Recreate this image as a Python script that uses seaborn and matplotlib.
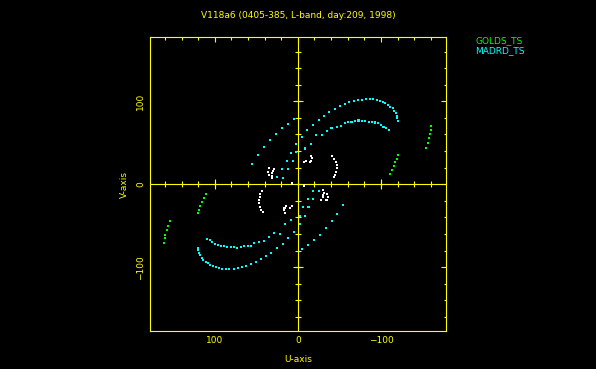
import numpy as np
import pandas as pd
import matplotlib
matplotlib.use("Agg")
import matplotlib.pyplot as plt
import seaborn as sns

# UV coverage, values (U, V in the plot's units)
# MADRD_TS (cyan): outer arc, inner arc, short arc, centre tracks; each with its conjugate half
madrd_outer_u = [-4.6, -11.3, -18.2, -25.4, -31.8, -37.8, -44.3, -50.7, -56.7, -61.9, -67.2, -72.0, -77.2, -82.4,
                 -86.9, -90.8, -94.9, -98.9, -102.2, -105.3, -108.2, -111.0, -114.2, -115.8, -117.8, -119.4, -119.8, -120.6,
                 4.6, 11.3, 18.2, 25.4, 31.8, 37.8, 44.3, 50.7, 56.7, 61.9, 67.2, 72.0, 77.2, 82.4,
                 86.9, 90.8, 94.9, 98.9, 102.2, 105.3, 108.2, 111.0, 114.2, 115.8, 117.8, 119.4, 119.8, 120.6]
madrd_outer_v = [57.2, 64.9, 71.7, 77.3, 82.5, 86.6, 90.6, 94.2, 96.3, 98.7, 100.2, 101.4, 101.8, 102.3,
                 102.7, 102.3, 101.4, 100.2, 99.0, 97.5, 95.4, 93.4, 91.4, 88.6, 85.4, 82.5, 79.4, 76.5,
                 -57.2, -64.9, -71.7, -77.3, -82.5, -86.6, -90.6, -94.2, -96.3, -98.7, -100.2, -101.4, -101.8, -102.3,
                 -102.7, -102.3, -101.4, -100.2, -99.0, -97.5, -95.4, -93.4, -91.4, -88.6, -85.4, -82.5, -79.4, -76.5]

madrd_inner_u = [109.2, 105.9, 103.1, 99.9, 96.3, 93.0, 89.0, 85.1, 81.0, 77.0, 73.0, 68.9, 64.6, 60.5, 56.5, 52.5,
                 47.2, 40.5, 34.8, 28.8, 21.9, 15.5, 8.3,
                 -109.2, -105.9, -103.1, -99.9, -96.3, -93.0, -89.0, -85.1, -81.0, -77.0, -73.0, -68.9, -64.6, -60.5,
                 -56.5, -52.5, -47.2, -40.5, -34.8, -28.8, -21.9, -15.5, -8.3]
madrd_inner_v = [-65.7, -67.6, -69.6, -72.0, -73.6, -74.5, -74.8, -75.3, -76.0, -76.0, -76.9, -76.0, -74.8, -74.8, -74.1,
                 -70.8, -69.3, -68.1, -64.0, -59.2, -59.6, -48.3, -43.1,
                 65.7, 67.6, 69.6, 72.0, 73.6, 74.5, 74.8, 75.3, 76.0, 76.0, 76.9, 76.0, 74.8, 74.8, 74.1,
                 70.8, 69.3, 68.1, 64.0, 59.2, 59.6, 48.3, 43.1]

madrd_short_u = [54.9, 47.7, 40.8, 33.6, 26.4, 19.2, 11.9, 4.7,
                 -54.9, -47.7, -40.8, -33.6, -26.4, -19.2, -11.9, -4.7]
madrd_short_v = [24.7, 35.5, 44.8, 53.3, 60.8, 67.3, 72.9, 78.2,
                 -24.7, -35.5, -44.8, -53.3, -60.8, -67.3, -72.9, -78.2]

madrd_centre_u = [25.5, 18.8, 12.8, 8.7, 2.3, 18.3, 12.3, 5.9, 2.3,
                  -25.5, -18.8, -12.8, -8.7, -2.3, -18.3, -12.3, -5.9, -2.3]
madrd_centre_v = [8.3, 18.3, 27.6, 38.0, 48.4, 7.8, 18.3, 27.6, 38.4,
                  -8.3, -18.3, -27.6, -38.0, -48.4, -7.8, -18.3, -27.6, -38.4]

# GOLDS_TS (green)
golds_u = [-160.7, -160.0, -159.5, -158.0, -156.4, -154.3, -120.6, -119.4, -117.3, -115.4, -113.4, -111.0,
           160.7, 160.0, 159.5, 158.0, 156.4, 154.3, 120.6, 119.4, 117.3, 115.4, 113.4, 111.0]
golds_v = [70.5, 65.3, 60.8, 55.3, 50.0, 44.0, 35.2, 30.7, 26.4, 21.6, 16.7, 11.9,
           -70.5, -65.3, -60.8, -55.3, -50.0, -44.0, -35.2, -30.7, -26.4, -21.6, -16.7, -11.9]

# short baselines (white, not in the legend)
short_u = [34.5, 28.4, 30.0, 36.0, 30.8, 35.2, 31.2, 30.8,
           -15.4, -17.0, -16.1, -14.6, -9.4, -7.0,
           -41.4, -43.9, -45.5, -46.7, -46.7, -45.9, -45.1, -43.5,
           7.3, 7.3,
           -34.5, -28.4, -30.0, -36.0, -30.8, -35.2, -31.2, -30.8,
           15.4, 17.0, 16.1, 14.6, 9.4, 7.0,
           41.4, 43.9, 45.5, 46.7, 46.7, 45.9, 45.1, 43.5,
           -7.3, -7.3]
short_v = [19.5, 18.7, 15.9, 15.1, 13.1, 11.7, 10.2, 7.1,
           34.3, 31.2, 28.3, 26.4, 28.3, 26.4,
           33.6, 30.7, 27.1, 23.1, 19.2, 15.1, 11.4, 8.3,
           1.8, 0.5,
           -19.5, -18.7, -15.9, -15.1, -13.1, -11.7, -10.2, -7.1,
           -34.3, -31.2, -28.3, -26.4, -28.3, -26.4,
           -33.6, -30.7, -27.1, -23.1, -19.2, -15.1, -11.4, -8.3,
           -1.8, -0.5]

title = "V118a6 (0405-385, L-band, day:209, 1998)"
lim = 178

madrd_u = madrd_outer_u + madrd_inner_u + madrd_short_u + madrd_centre_u
madrd_v = madrd_outer_v + madrd_inner_v + madrd_short_v + madrd_centre_v
df = pd.concat([
    pd.DataFrame({"U": short_u, "V": short_v, "station": "short"}),
    pd.DataFrame({"U": golds_u, "V": golds_v, "station": "GOLDS_TS"}),
    pd.DataFrame({"U": madrd_u, "V": madrd_v, "station": "MADRD_TS"}),
], ignore_index=True)
palette = {"short": "white", "GOLDS_TS": "#00ff00", "MADRD_TS": "#00ffff"}

sns.set_style("dark")
yellow = "#ffff00"
plt.rcParams["font.family"] = ["DejaVu Sans"]

fig = plt.figure(figsize=(5.96, 3.69), dpi=100, facecolor="black")
ax = fig.add_axes([0.2517, 0.103, 0.4961, 0.7954], facecolor="black")

sns.scatterplot(data=df, x="U", y="V", hue="station", palette=palette, marker="s",
                s=2.2, linewidth=0, legend=False, ax=ax, zorder=3, antialiased=False)

ax.set_xlim(lim, -lim)
ax.set_ylim(-lim + 1, lim - 1)
ax.grid(False)
for sp in ax.spines.values():
    sp.set_color(yellow)
    sp.set_linewidth(0.8)

major = [-100, 0, 100]
minor = np.arange(-160, 161, 20)
ax.set_xticks(major)
ax.set_yticks(major)
ax.set_xticks(minor, minor=True)
ax.set_yticks(minor, minor=True)
ax.set_xticklabels(["\u2212100", "0", "100"])
ax.set_yticklabels(["\u2212100", "0", "100"], rotation=90, va="center")
ax.tick_params(which="both", direction="in", top=True, right=True, colors=yellow, width=0.8)
ax.tick_params(which="major", length=3.3, labelsize=6.5, pad=3.5)
ax.tick_params(which="minor", length=1.8)

# zero lines through the origin, with ticks on both sides
ax.axhline(0, color=yellow, lw=0.8, zorder=2)
ax.axvline(0, color=yellow, lw=0.8, zorder=2)
ax.plot(minor, np.zeros(len(minor)), ls="", marker="|", ms=4.3, mew=0.8, color=yellow, zorder=2)
ax.plot(np.zeros(len(minor)), minor, ls="", marker="_", ms=4.3, mew=0.8, color=yellow, zorder=2)
ax.plot([-100, 100], [0, 0], ls="", marker="|", ms=6.8, mew=0.8, color=yellow, zorder=2)
ax.plot([0, 0], [-100, 100], ls="", marker="_", ms=6.8, mew=0.8, color=yellow, zorder=2)

ax.set_xlabel("U-axis", color=yellow, fontsize=6.5, labelpad=7)
ax.set_ylabel("V-axis", color=yellow, fontsize=6.5, labelpad=5)

fig.text(0.5, 0.957, title, color=yellow, fontsize=6.5, ha="center", va="center")
fig.text(0.797, 0.889, "GOLDS_TS", color=palette["GOLDS_TS"], fontsize=6.5, ha="left", va="center")
fig.text(0.797, 0.862, "MADRD_TS", color=palette["MADRD_TS"], fontsize=6.5, ha="left", va="center")

fig.savefig("out.png", dpi=100, facecolor="black")
